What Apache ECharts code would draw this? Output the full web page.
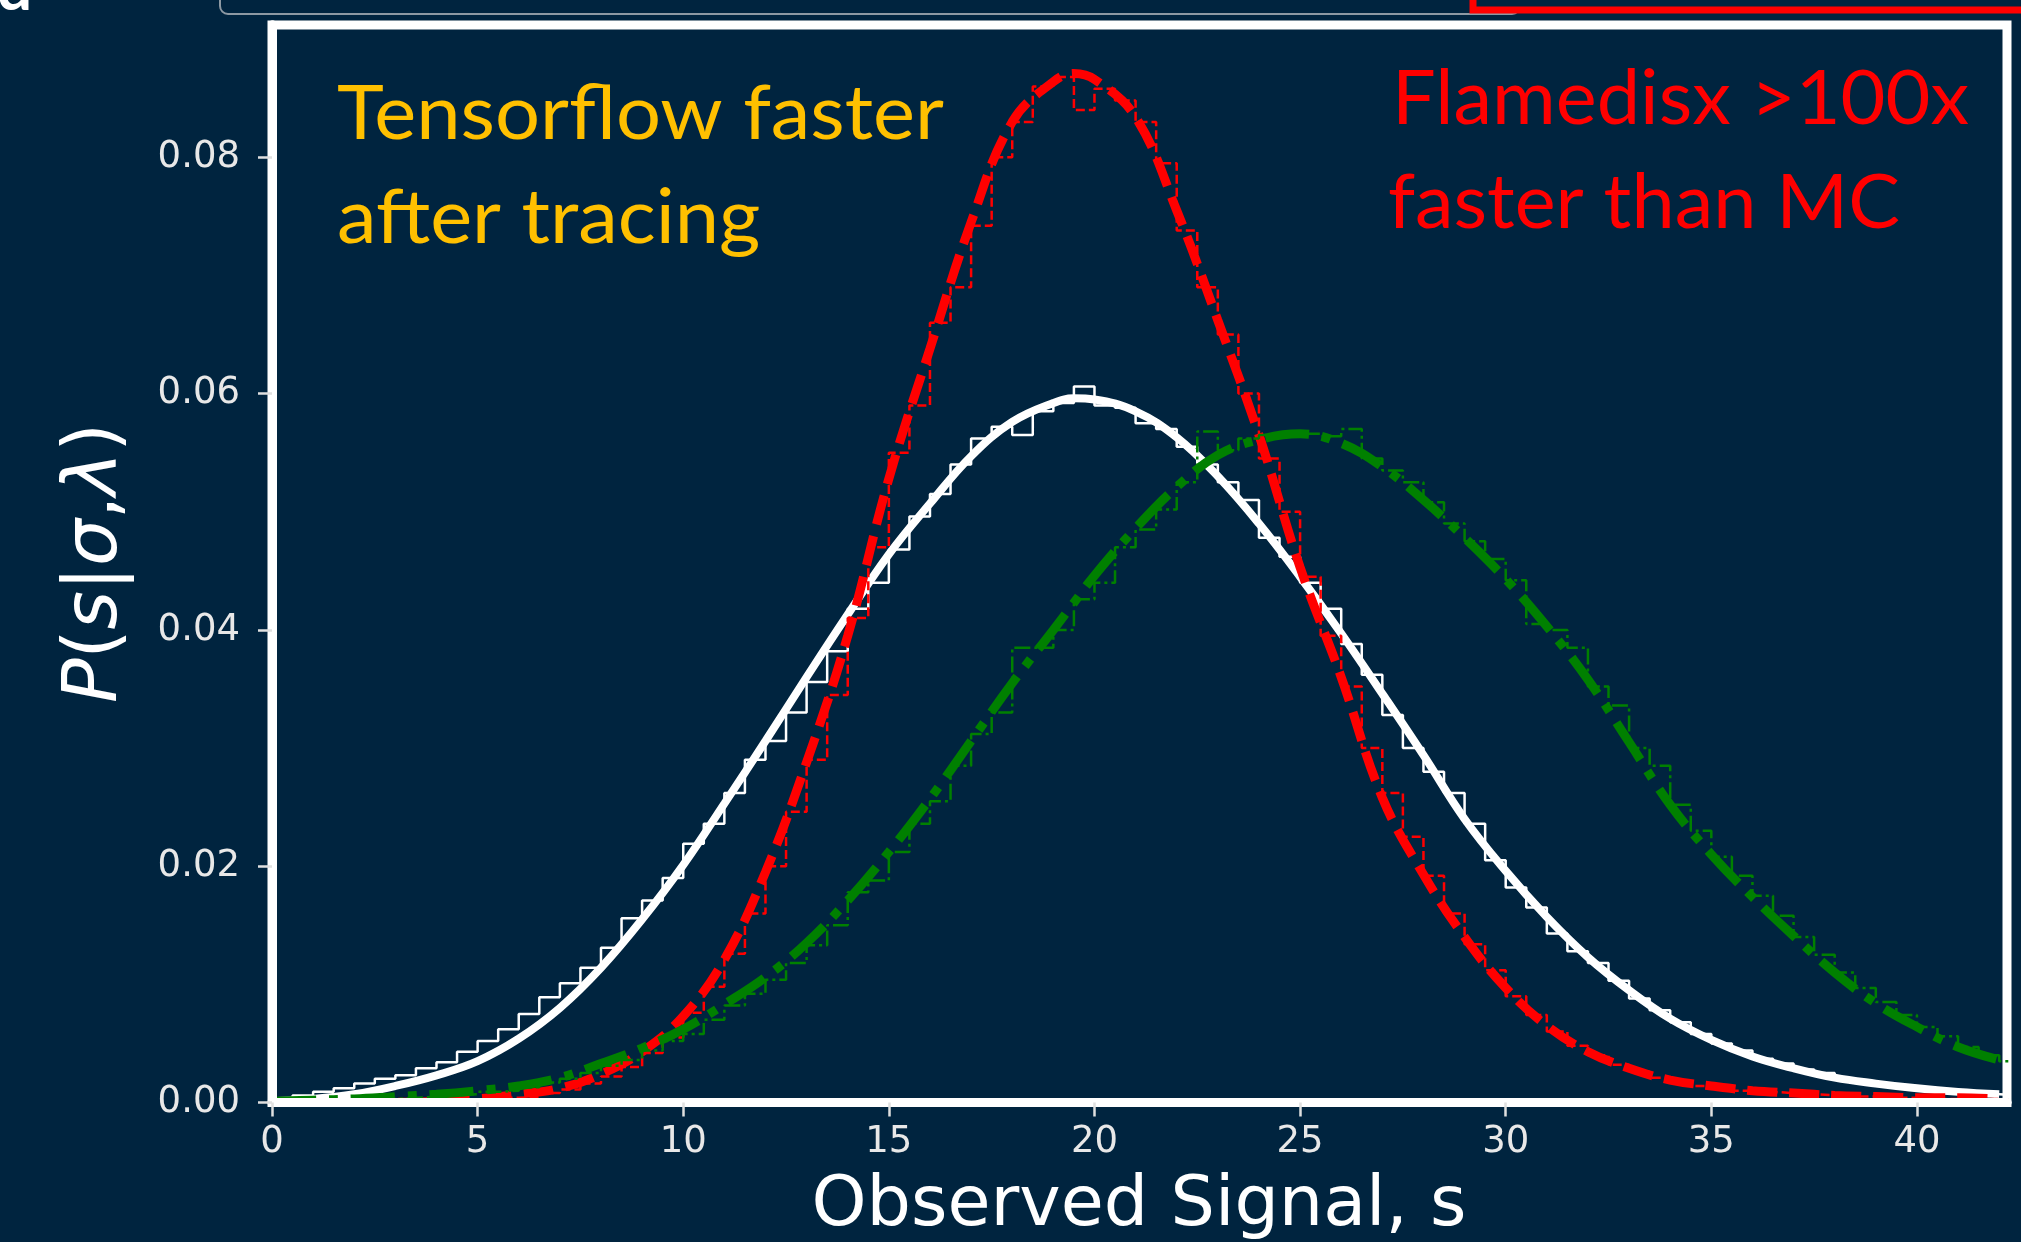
<!DOCTYPE html>
<html><head><meta charset="utf-8">
<script src="https://cdn.jsdelivr.net/npm/echarts@6/dist/echarts.min.js"></script>
<style>html,body{margin:0;padding:0;background:#00243f;}#c{width:2021px;height:1242px;}</style>
</head><body><div id="c"></div>
<script>
// ---- data ----
const curveX = [0,1,2,3,4,5,6,7,8,9,10,11,12,13,14,15,16,17,18,19,19.5,20,21,22,23,24,25,26,27,28,29,30,31,32,33,34,35,36,37,38,39,40,41,42];
const whiteCurve = [0.0001,0.0003,0.0007,0.0014,0.0023,0.0035,0.0054,0.0080,0.0114,0.0155,
  0.0201,0.0253,0.0306,0.0360,0.0413,0.0464,0.0507,0.0547,0.0576,0.0592,0.0596,
  0.0595,0.0585,0.0563,0.0530,0.0490,0.0445,0.0397,0.0346,0.0294,0.0240,
  0.0196,0.0157,0.0123,0.0095,0.0071,0.0053,0.0039,0.0029,0.0021,0.0016,
  0.0012,0.0009,0.0007];
const redCurve = [0,0,0,0.00002,0.0001,0.0003,0.0007,0.0012,0.0024,0.0043,
  0.0073,0.0121,0.0195,0.0288,0.0395,0.0528,0.0638,0.0745,0.0830,0.0864,0.0871,
  0.0866,0.0834,0.0755,0.0662,0.0565,0.0453,0.0360,0.0258,0.0193,0.0140,
  0.0097,0.0065,0.0043,0.0029,0.0019,0.0014,0.0010,0.0008,0.0006,0.0005,
  0.0004,0.0004,0.0003];
const greenCurve = [0.0001,0.0002,0.0003,0.0005,0.0007,0.0010,0.0014,0.0021,0.0033,0.0046,
  0.0062,0.0083,0.0106,0.0135,0.0171,0.0212,0.0257,0.0306,0.0355,0.0400,0.0423,
  0.0446,0.0486,0.0521,0.0548,0.0561,0.0566,0.0558,0.0538,0.0510,0.0478,
  0.0443,0.0403,0.0358,0.0305,0.0252,0.0210,0.0174,0.0141,0.0110,0.0084,
  0.0064,0.0047,0.0036];

const binStart = 0, binWidth = 0.5;
const whiteHist = [0.0003,0.0006,0.0009,0.0012,0.0016,0.0020,0.0023,0.0029,0.0034,0.0043,
  0.0052,0.0062,0.0075,0.0089,0.0101,0.0114,0.0131,0.0156,0.0171,0.0190,
  0.0219,0.0236,0.0262,0.0290,0.0306,0.0330,0.0356,0.0382,0.0418,0.0440,
  0.0468,0.0496,0.0515,0.0540,0.0562,0.0572,0.0565,0.0585,0.0592,0.0606,
  0.0590,0.0588,0.0575,0.0570,0.0555,0.0540,0.0525,0.0510,0.0478,0.0462,
  0.0440,0.0418,0.0388,0.0362,0.0328,0.0300,0.0280,0.0262,0.0236,0.0205,
  0.0182,0.0165,0.0143,0.0128,0.0118,0.0103,0.0088,0.0078,0.0068,0.0058,
  0.0050,0.0044,0.0037,0.0033,0.0028,0.0025,0.0020,0.0018,0.0015,0.0013,
  0.0011,0.0010,0.0008,0.0007,0.0006];
const redHist = [0.0000,0.0000,0.0000,0.0000,0.0000,0.0000,0.0000,0.0001,0.0001,0.0002,
  0.0002,0.0004,0.0005,0.0008,0.0011,0.0016,0.0022,0.0030,0.0042,0.0055,
  0.0076,0.0098,0.0126,0.0160,0.0200,0.0246,0.0290,0.0345,0.0410,0.0470,
  0.0550,0.0590,0.0660,0.0690,0.0742,0.0800,0.0830,0.0860,0.0868,0.0840,
  0.0858,0.0848,0.0830,0.0795,0.0738,0.0690,0.0650,0.0600,0.0545,0.0500,
  0.0445,0.0395,0.0352,0.0300,0.0262,0.0225,0.0192,0.0160,0.0134,0.0112,
  0.0090,0.0074,0.0060,0.0048,0.0040,0.0032,0.0026,0.0021,0.0017,0.0014,
  0.0012,0.0010,0.0009,0.0008,0.0007,0.0006,0.0005,0.0005,0.0004,0.0004,
  0.0003,0.0003,0.0003,0.0003,0.0002];
const greenHist = [0.0001,0.0001,0.0002,0.0002,0.0003,0.0003,0.0004,0.0005,0.0006,0.0007,
  0.0009,0.0010,0.0013,0.0017,0.0020,0.0025,0.0031,0.0036,0.0044,0.0052,
  0.0058,0.0070,0.0082,0.0092,0.0104,0.0118,0.0133,0.0150,0.0178,0.0188,
  0.0212,0.0236,0.0255,0.0285,0.0312,0.0330,0.0385,0.0385,0.0400,0.0426,
  0.0440,0.0470,0.0485,0.0502,0.0525,0.0568,0.0552,0.0562,0.0565,0.0566,
  0.0566,0.0564,0.0570,0.0545,0.0535,0.0525,0.0508,0.0490,0.0475,0.0460,
  0.0442,0.0405,0.0400,0.0385,0.0352,0.0336,0.0300,0.0285,0.0252,0.0230,
  0.0208,0.0192,0.0175,0.0158,0.0140,0.0125,0.0110,0.0097,0.0085,0.0074,
  0.0064,0.0056,0.0047,0.0040,0.0035];

const xTickValues = [0,5,10,15,20,25,30,35,40];
const yTickValues = [0,0.02,0.04,0.06,0.08];
const xAxisTitle = 'Observed Signal, s';
const noteYellow = ['Tensorflow faster', 'after tracing'];
const noteRed = ['Flamedisx >100x', 'faster than MC'];

// ---- build ----
function curvePairs(ys){ return curveX.map((x,i)=>[x, ys[i]]); }
function stepPairs(vals){
  const pts = vals.map((v,i)=>[binStart + i*binWidth, v]);
  pts.push([binStart + vals.length*binWidth, vals[vals.length-1]]);
  return pts;
}
const BG = '#00243f';
const XMAX = 42.19, YMAX = 0.0912;
const tickFont = {color:'#e8e8e8', fontSize:37, fontFamily:'DejaVu Sans'};
const spine = {show:true, lineStyle:{color:'#ffffff', width:9}};

const chart = echarts.init(document.getElementById('c'), null, {renderer:'canvas'});
chart.setOption({
  backgroundColor: BG,
  animation: false,
  grid: {left:272, right:14, top:25, bottom:139.5, show:true, borderColor:'#ffffff', borderWidth:9, containLabel:false},
  xAxis: [
    {type:'value', min:0, max:XMAX, position:'bottom', z:10,
     axisLine:spine, splitLine:{show:false},
     axisTick:{show:true, inside:false, length:14, lineStyle:{color:'#e0e0e0', width:2.5}, customValues:xTickValues},
     axisLabel:Object.assign({margin:21, customValues:xTickValues, formatter:v=>String(v)}, tickFont)},
    {type:'value', min:0, max:XMAX, position:'top', z:10,
     axisLine:spine, splitLine:{show:false}, axisTick:{show:false}, axisLabel:{show:false}}
  ],
  yAxis: [
    {type:'value', min:0, max:YMAX, position:'left', z:10,
     axisLine:spine, splitLine:{show:false},
     axisTick:{show:true, inside:false, length:14, lineStyle:{color:'#e0e0e0', width:2.5}, customValues:yTickValues},
     axisLabel:Object.assign({margin:32, customValues:yTickValues, formatter:v=>v.toFixed(2)}, tickFont)},
    {type:'value', min:0, max:YMAX, position:'right', z:10,
     axisLine:spine, splitLine:{show:false}, axisTick:{show:false}, axisLabel:{show:false}}
  ],
  series: [
    {name:'white hist', type:'line', step:'end', data:stepPairs(whiteHist), symbol:'none',
     lineStyle:{color:'#ffffff', width:2.5}},
    {name:'white model', type:'line', smooth:0.4, data:curvePairs(whiteCurve), symbol:'none',
     lineStyle:{color:'#ffffff', width:8}},
    {name:'red hist', type:'line', step:'end', data:stepPairs(redHist), symbol:'none',
     lineStyle:{color:'#ff0000', width:2.5, type:[9,4]}},
    {name:'red model', type:'line', smooth:0.4, data:curvePairs(redCurve), symbol:'none',
     lineStyle:{color:'#ff0000', width:9, type:[30,12]}},
    {name:'green hist', type:'line', step:'end', data:stepPairs(greenHist), symbol:'none',
     lineStyle:{color:'#008000', width:2.5, type:[16,4,3,4]}},
    {name:'green model', type:'line', smooth:0.4, data:curvePairs(greenCurve), symbol:'none',
     lineStyle:{color:'#008000', width:9, type:[44,13,9,13]}}
  ],
  graphic: [
    {type:'text', x:1139, y:1207, z:20, style:{text:xAxisTitle, fill:'#ffffff', fontSize:70, fontFamily:'DejaVu Sans', align:'center', verticalAlign:'middle'}},
    {type:'text', x:97, y:563, rotation:Math.PI/2, z:20, style:{
      text:'{i|P}{n|(}{i|s}{n||}{i|σ}{n|,}{i|λ}{n|)}', align:'center', verticalAlign:'middle', fill:'#ffffff',
      rich:{i:{fontStyle:'italic', fontFamily:'DejaVu Sans', fontSize:74, fill:'#ffffff'},
            n:{fontFamily:'DejaVu Sans', fontSize:74, fill:'#ffffff'}}}},
    {type:'text', x:337, y:115, z:20, scaleX:1.06, style:{text:noteYellow[0], fill:'#ffc000', fontSize:75, fontFamily:'Lato', align:'left', verticalAlign:'middle'}},
    {type:'text', x:337, y:219, z:20, scaleX:1.06, style:{text:noteYellow[1], fill:'#ffc000', fontSize:75, fontFamily:'Lato', align:'left', verticalAlign:'middle'}},
    {type:'text', x:1392, y:99, z:20, scaleX:1.02, style:{text:noteRed[0], fill:'#ff0000', fontSize:76, fontFamily:'Lato', align:'left', verticalAlign:'middle'}},
    {type:'text', x:1388, y:203, z:20, scaleX:1.02, style:{text:noteRed[1], fill:'#ff0000', fontSize:76, fontFamily:'Lato', align:'left', verticalAlign:'middle'}},
    {type:'rect', z:15, shape:{x:220, y:-40, width:1300, height:54, r:8}, style:{fill:null, stroke:'#8d99a3', lineWidth:2}},
    {type:'rect', z:16, shape:{x:1473, y:-40, width:560, height:50}, style:{fill:BG, stroke:'#ff0000', lineWidth:7}},
    {type:'text', x:-3, y:-10, z:20, style:{text:'d', fill:'#ffffff', fontSize:62, fontWeight:'bold', fontFamily:'Lato', align:'left', verticalAlign:'middle'}}
  ]
});
</script></body></html>
